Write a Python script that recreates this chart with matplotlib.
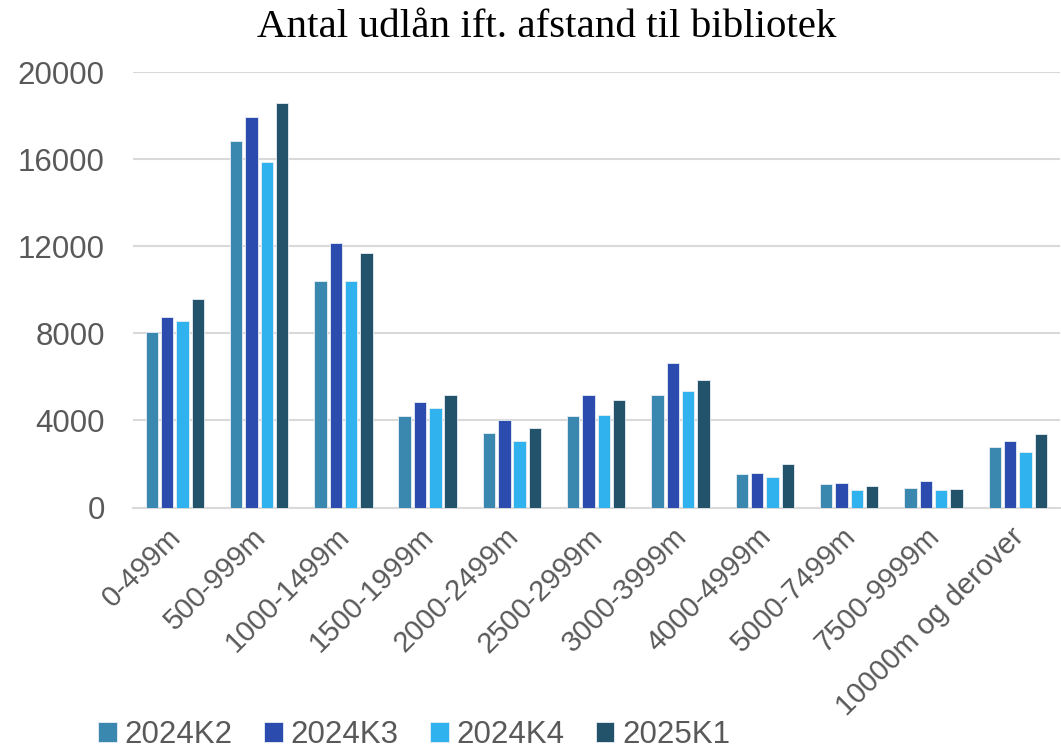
import matplotlib.pyplot as plt
import matplotlib.transforms as mtransforms
import numpy as np

categories = ['0-499m', '500-999m', '1000-1499m', '1500-1999m', '2000-2499m',
              '2500-2999m', '3000-3999m', '4000-4999m', '5000-7499m',
              '7500-9999m', '10000m og derover']
series_names = ['2024K2', '2024K3', '2024K4', '2025K1']
k2_2024 = [8050, 16840, 10400, 4210, 3440, 4210, 5170, 1520, 1080, 910, 2780]
k3_2024 = [8760, 17960, 12170, 4860, 4020, 5170, 6630, 1590, 1140, 1230, 3050]
k4_2024 = [8570, 15860, 10390, 4570, 3070, 4240, 5360, 1400, 800, 810, 2560]
k1_2025 = [9580, 18590, 11690, 5160, 3670, 4930, 5860, 1980, 1000, 850, 3390]
yticks = [0, 4000, 8000, 12000, 16000, 20000]

colors = ['#3A87B0', '#2B4BAF', '#30B2EE', '#23526B']
grey = '#595959'

fig = plt.figure(figsize=(10.61, 7.48), dpi=100)
ax = fig.add_axes([0.125, 0.3215, 0.874, 0.582])

x = np.arange(len(categories))
step = 0.182
width = 0.147
for i, (name, vals) in enumerate(zip(series_names, [k2_2024, k3_2024, k4_2024, k1_2025])):
    ax.bar(x + (i - 1.5) * step, vals, width=width, color=colors[i],
           edgecolor='#e8eef3', linewidth=0.6, label=name, zorder=3)

ax.set_xlim(-0.5, len(categories) - 0.5)
ax.set_ylim(0, 20000)
ax.set_yticks(yticks)
ax.set_yticklabels([str(v) for v in yticks])
ax.yaxis.grid(True, color='#d9d9d9', linewidth=1.5, zorder=0)
ax.set_axisbelow(True)
for s in ['top', 'right', 'left']:
    ax.spines[s].set_visible(False)
ax.spines['bottom'].set_color('#d9d9d9')
ax.spines['bottom'].set_linewidth(1.5)
ax.tick_params(axis='both', length=0, colors=grey)
ax.tick_params(axis='y', labelsize=22.5, pad=20)
ax.set_xticks(x)
ax.set_xticklabels(categories, rotation=45, ha='right', va='center',
                   rotation_mode='anchor', fontsize=21, color=grey)
ax.tick_params(axis='x', pad=18)
shift = mtransforms.ScaledTranslation(0.02, 0, fig.dpi_scale_trans)
for lab in ax.get_xticklabels():
    lab.set_transform(lab.get_transform() + shift)
for lab in ax.get_xticklabels() + ax.get_yticklabels():
    lab.set_family('Liberation Sans')

fig.suptitle('Antal udlån ift. afstand til bibliotek', family='Liberation Serif',
             fontsize=29.5, y=0.988, x=0.515)

leg = fig.legend(loc='lower left', bbox_to_anchor=(0.066, -0.04), ncol=4,
                 frameon=False, handlelength=0.6, handleheight=0.6,
                 handletextpad=0.25, columnspacing=1.0,
                 prop={'family': 'Liberation Sans', 'size': 22.5})
for t in leg.get_texts():
    t.set_color(grey)

fig.savefig('out.png', dpi=100)
